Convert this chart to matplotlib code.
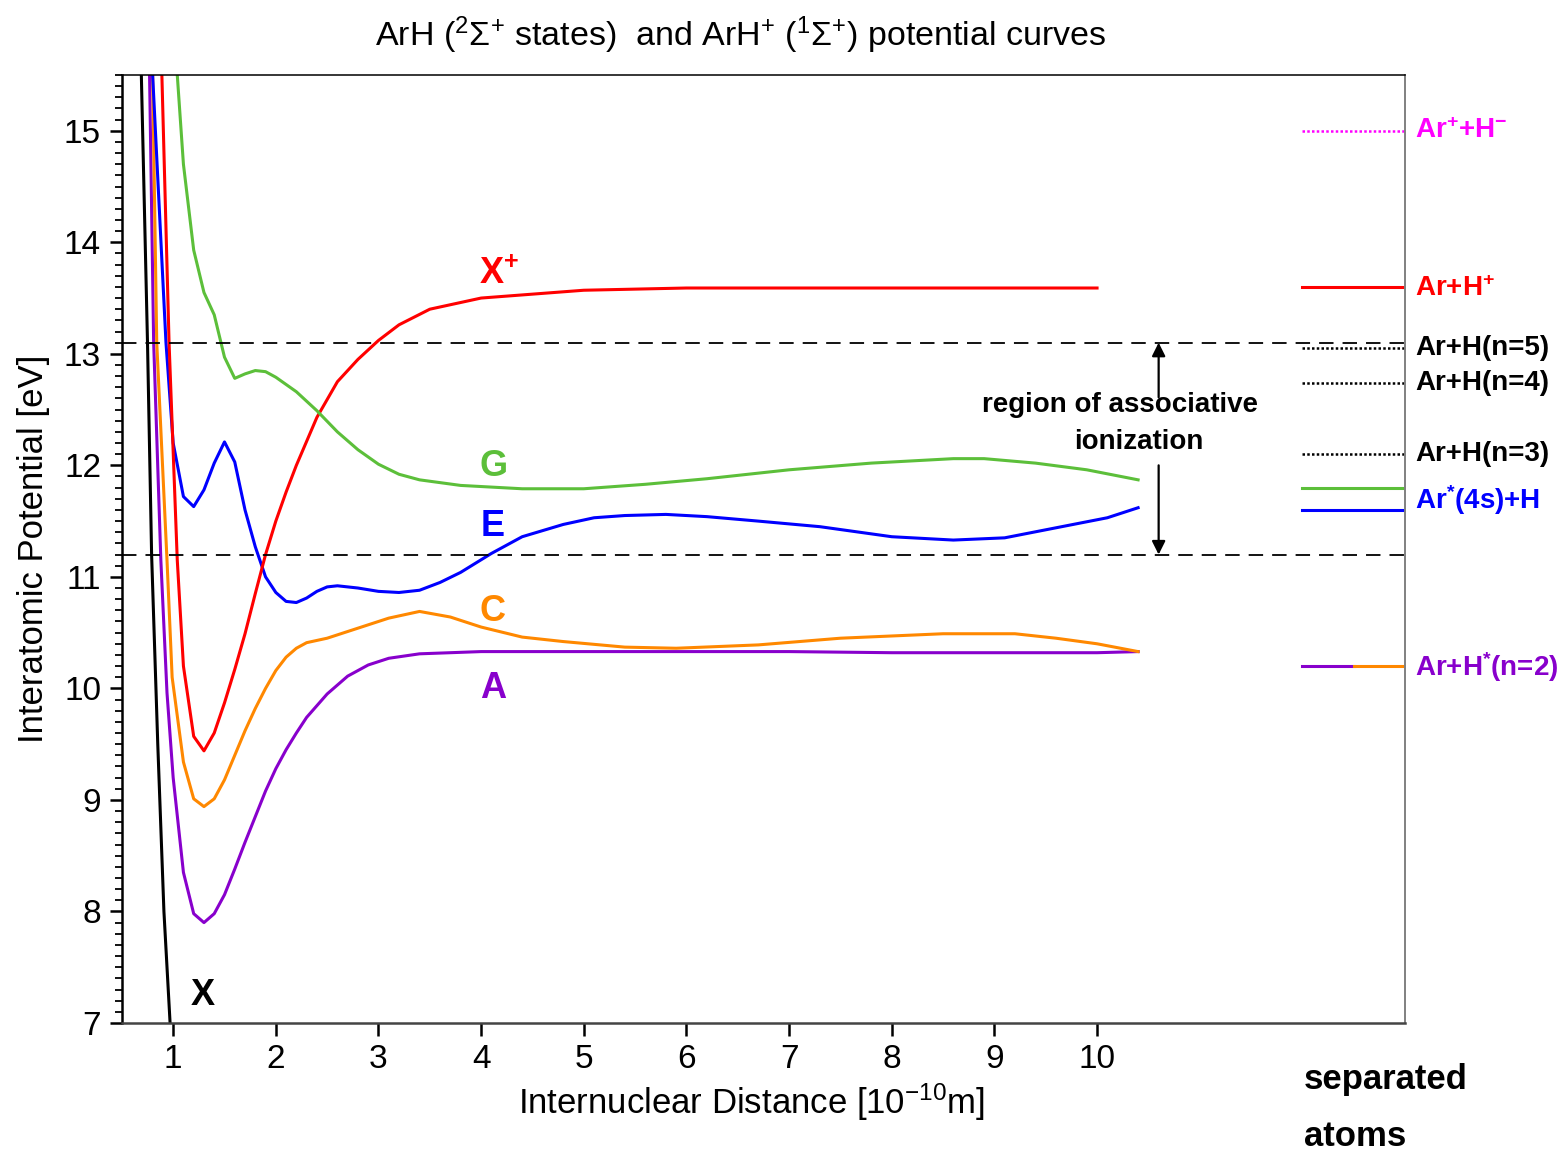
import numpy as np
import matplotlib
matplotlib.use("Agg")
import matplotlib.pyplot as plt
from matplotlib.ticker import MultipleLocator

plt.rcParams['font.family'] = ['Liberation Sans', 'DejaVu Sans']
plt.rcParams['mathtext.default'] = 'regular'

# potential curves, r in 1e-10 m, E in eV
r_X = [0.66, 0.69, 0.75, 0.79, 0.85, 0.91, 0.97, 1.0]
e_X = [16.5, 15.5, 13.1, 11.2, 9.5, 8.0, 7.0, 6.6]

r_A = [0.74, 0.77, 0.81, 0.88, 0.94, 1.0, 1.1, 1.2, 1.3, 1.4, 1.5, 1.6, 1.7, 1.8, 1.9, 2.0,
       2.1, 2.2, 2.3, 2.5, 2.7, 2.9, 3.1, 3.4, 4.0, 5.0, 6.0, 7.0, 8.0, 9.0, 10.0, 10.4]
e_A = [16.5, 15.5, 13.1, 11.15, 9.96, 9.2, 8.35, 7.98, 7.90, 7.98, 8.15, 8.38, 8.62, 8.85, 9.08, 9.28,
       9.45, 9.60, 9.74, 9.95, 10.11, 10.21, 10.27, 10.31, 10.33, 10.33, 10.33, 10.33, 10.32, 10.32, 10.32, 10.33]

r_C = [0.77, 0.80, 0.84, 0.94, 0.99, 1.1, 1.2, 1.3, 1.4, 1.5, 1.6, 1.7, 1.8, 1.9, 2.0, 2.1, 2.2, 2.3,
       2.5, 2.7, 2.9, 3.1, 3.4, 3.7, 4.0, 4.4, 4.8, 5.4, 5.9, 6.7, 7.5, 8.5, 9.2, 9.6, 10.0, 10.4]
e_C = [16.5, 15.5, 13.1, 11.15, 10.10, 9.34, 9.01, 8.94, 9.01, 9.18, 9.40, 9.62, 9.82, 10.0, 10.16, 10.28, 10.36, 10.41,
       10.45, 10.51, 10.57, 10.63, 10.69, 10.64, 10.55, 10.46, 10.42, 10.37, 10.36, 10.39, 10.45, 10.49, 10.49, 10.45, 10.40, 10.33]

r_E = [0.77, 0.80, 0.93, 1.0, 1.1, 1.2, 1.3, 1.4, 1.5, 1.6, 1.7, 1.8, 1.9, 2.0, 2.1, 2.2, 2.3, 2.4,
       2.5, 2.6, 2.8, 3.0, 3.2, 3.4, 3.6, 3.8, 4.1, 4.4, 4.8, 5.1, 5.4, 5.8, 6.2, 6.7, 7.3, 8.0,
       8.6, 9.1, 9.6, 10.1, 10.4]
e_E = [16.5, 15.5, 13.1, 12.2, 11.72, 11.63, 11.78, 12.02, 12.21, 12.03, 11.60, 11.27, 11.0, 10.86, 10.78, 10.77, 10.81, 10.87,
       10.91, 10.92, 10.90, 10.87, 10.86, 10.88, 10.95, 11.04, 11.21, 11.36, 11.47, 11.53, 11.55, 11.56, 11.54, 11.50, 11.45, 11.36,
       11.33, 11.35, 11.44, 11.53, 11.62]

r_Xp = [0.86, 0.89, 0.96, 1.04, 1.1, 1.2, 1.3, 1.4, 1.5, 1.6, 1.7, 1.8, 1.9, 2.0, 2.1, 2.2,
        2.4, 2.6, 2.8, 3.0, 3.2, 3.5, 4.0, 5.0, 6.0, 10.0]
e_Xp = [16.5, 15.5, 13.1, 11.15, 10.2, 9.57, 9.44, 9.60, 9.87, 10.17, 10.49, 10.85, 11.2, 11.5, 11.76, 12.0,
        12.43, 12.75, 12.95, 13.12, 13.26, 13.40, 13.50, 13.57, 13.59, 13.59]

r_G = [0.97, 1.04, 1.1, 1.2, 1.3, 1.4, 1.5, 1.6, 1.7, 1.8, 1.9, 2.0, 2.2, 2.4, 2.6, 2.8, 3.0, 3.2,
       3.4, 3.8, 4.4, 5.0, 5.6, 6.2, 7.0, 7.8, 8.6, 8.9, 9.4, 9.9, 10.4]
e_G = [16.5, 15.5, 14.7, 13.93, 13.55, 13.35, 12.97, 12.78, 12.82, 12.85, 12.84, 12.79, 12.66, 12.49, 12.30, 12.14, 12.01, 11.92,
       11.87, 11.82, 11.79, 11.79, 11.83, 11.88, 11.96, 12.02, 12.06, 12.06, 12.02, 11.96, 11.87]

# separated-atom limits
lim_labels = ['Ar$^{+}$+H$^{-}$', 'Ar+H$^{+}$', 'Ar+H(n=5)', 'Ar+H(n=4)', 'Ar+H(n=3)',
              'Ar$^{*}$(4s)+H', 'Ar+H$^{*}$(n=2)']
lim_label_y = [15.0, 13.58, 13.05, 12.74, 12.1, 11.69, 10.19]
lim_colors = ['#ff00ff', '#ff0000', 'black', 'black', 'black', '#0000ff', '#8800cc']

ai_bounds = [11.2, 13.1]

red = '#ff0000'
green = '#5cbf3a'
blue = '#0000ff'
orange = '#ff8800'
purple = '#8800cc'

fig = plt.figure(figsize=(15.62, 11.52), dpi=100)
ax = fig.add_axes([0.078, 0.112, 0.8215, 0.8229])

lw = 2.2
ax.plot(r_X, e_X, color='black', lw=lw)
ax.plot(r_A, e_A, color=purple, lw=lw)
ax.plot(r_C, e_C, color=orange, lw=lw)
ax.plot(r_E, e_E, color=blue, lw=lw)
ax.plot(r_Xp, e_Xp, color=red, lw=lw)
ax.plot(r_G, e_G, color=green, lw=lw)

for yb in ai_bounds:
    ax.axhline(yb, color='black', lw=1.3, ls=(0, (8, 5)))

# asymptotic levels at the right
ax.plot([12, 13], [15.0, 15.0], color='#ff00ff', lw=1.8, ls=(0, (1.0, 0.9)))
ax.plot([12, 13], [13.6, 13.6], color=red, lw=lw)
for yl in [13.05, 12.74, 12.1]:
    ax.plot([12, 13], [yl, yl], color='black', lw=1.8, ls=(0, (1.0, 0.9)))
ax.plot([12, 13], [11.8, 11.8], color=green, lw=lw)
ax.plot([12, 13], [11.6, 11.6], color=blue, lw=lw)
ax.plot([12, 12.5], [10.2, 10.2], color=purple, lw=lw)
ax.plot([12.5, 13], [10.2, 10.2], color=orange, lw=lw)

for lab, yl, c in zip(lim_labels, lim_label_y, lim_colors):
    ax.text(13.1, yl, lab, color=c, fontsize=20, fontweight='bold', va='center', ha='left', clip_on=False)

# curve labels
cfs = 26
ax.text(4.17, 13.71, 'X$^{+}$', color=red, fontsize=cfs, fontweight='bold', ha='center', va='center')
ax.text(4.12, 11.99, 'G', color=green, fontsize=cfs, fontweight='bold', ha='center', va='center')
ax.text(4.11, 11.45, 'E', color=blue, fontsize=cfs, fontweight='bold', ha='center', va='center')
ax.text(4.11, 10.69, 'C', color=orange, fontsize=cfs, fontweight='bold', ha='center', va='center')
ax.text(4.12, 10.0, 'A', color=purple, fontsize=cfs, fontweight='bold', ha='center', va='center')
ax.text(1.29, 7.25, 'X', color='black', fontsize=cfs, fontweight='bold', ha='center', va='center')

# region of associative ionization
ax.annotate('', xy=(10.6, 13.1), xytext=(10.6, 12.61),
            arrowprops=dict(arrowstyle='-|>', color='black', lw=1.6, mutation_scale=20, shrinkA=0, shrinkB=0))
ax.annotate('', xy=(10.6, 11.2), xytext=(10.6, 12.0),
            arrowprops=dict(arrowstyle='-|>', color='black', lw=1.6, mutation_scale=20, shrinkA=0, shrinkB=0))
ax.text(10.22, 12.54, 'region of associative', fontsize=20, fontweight='bold', ha='center', va='center')
ax.text(10.41, 12.21, 'ionization', fontsize=20, fontweight='bold', ha='center', va='center')

ax.set_xlim(0.5, 13)
ax.set_ylim(7, 15.5)
ax.set_xticks(range(1, 11))
ax.yaxis.set_major_locator(MultipleLocator(1))
ax.yaxis.set_minor_locator(MultipleLocator(0.1))
ax.tick_params(axis='both', which='major', direction='out', length=9, width=1.8, labelsize=24, pad=6)
ax.tick_params(axis='y', which='minor', direction='out', length=5, width=1.3)
ax.tick_params(top=False, right=False)

ax.spines['left'].set_linewidth(1.8)
ax.spines['bottom'].set_linewidth(1.8)
ax.spines['bottom'].set_color('#444444')
ax.spines['right'].set_color('#808080')
ax.spines['right'].set_linewidth(1.4)
ax.spines['top'].set_linewidth(1.1)

ax.set_ylabel('Interatomic Potential [eV]', fontsize=25, labelpad=10)
ax.set_xlabel('Internuclear Distance [10$^{-10}$m]', fontsize=25)
ax.xaxis.set_label_coords(0.491, -0.062)

fig.text(741 / 1562, 1 - 35 / 1152, 'ArH ($^{2}$Σ$^{+}$ states)  and ArH$^{+}$ ($^{1}$Σ$^{+}$) potential curves',
         fontsize=24.5, ha='center', va='center')

fig.text(1304 / 1562, 1 - 1080 / 1152, 'separated', fontsize=25, fontweight='bold', ha='left', va='center')
fig.text(1304 / 1562, 1 - 1136 / 1152, 'atoms', fontsize=25, fontweight='bold', ha='left', va='center')

fig.savefig('out.png', dpi=100)
